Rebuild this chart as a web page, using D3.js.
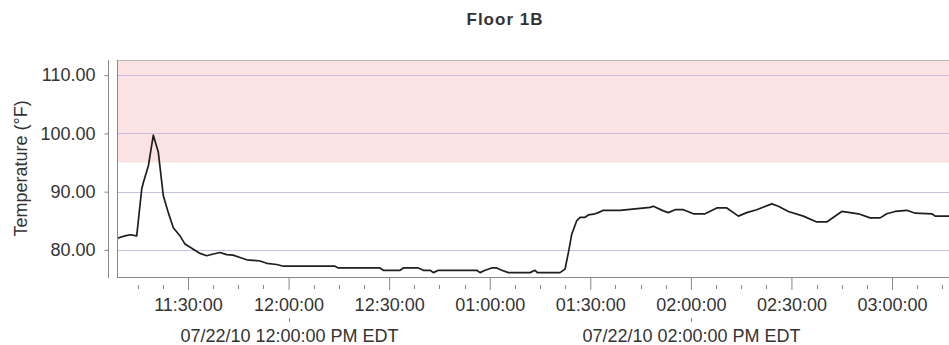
<!DOCTYPE html>
<html><head><meta charset="utf-8">
<script src="https://cdn.jsdelivr.net/npm/d3@7"></script>
<style>body{margin:0;background:#fff}svg{display:block}text{font-family:"Liberation Sans",Arial,sans-serif}</style>
</head><body><svg id="c" width="949" height="345"></svg>
<script>
const title = "Floor 1B";
const yLabel = "Temperature (°F)";
const dateStr = "2010-07-22";
const times = ["11:08:55","11:11:12","11:12:42","11:14:42","11:16:12","11:16:42","11:18:12","11:19:39","11:21:08","11:22:38","11:24:07","11:25:37","11:27:37","11:29:06","11:31:35","11:33:35","11:35:35","11:37:33","11:39:33","11:41:33","11:43:25","11:45:31","11:47:31","11:51:29","11:53:29","11:56:28","11:58:26","12:13:51","12:14:50","12:27:17","12:28:16","12:33:15","12:34:14","12:38:42","12:40:12","12:42:12","12:43:11","12:44:41","12:56:08","12:57:07","12:58:36","13:00:36","13:02:06","13:03:35","13:05:33","13:12:02","13:13:31","13:14:13","13:20:58","13:22:28","13:23:27","13:24:28","13:25:57","13:26:57","13:28:26","13:29:25","13:31:25","13:32:24","13:33:54","13:38:53","13:47:50","13:48:49","13:51:48","13:53:17","13:55:17","13:57:46","14:00:45","14:04:14","14:07:44","14:10:43","14:14:11","14:16:40","14:19:39","14:24:08","14:26:06","14:29:05","14:33:34","14:37:33","14:40:32","14:45:01","14:47:30","14:50:00","14:53:28","14:56:27","14:58:27","15:00:56","15:04:25","15:06:54","15:11:53","15:12:53","15:17:00"];
const temps = [82.0,82.4,82.6,82.4,90.5,91.6,94.5,99.7,96.8,89.3,86.4,83.8,82.4,81.0,80.1,79.4,79.0,79.3,79.55,79.2,79.1,78.7,78.3,78.1,77.7,77.5,77.2,77.2,76.9,76.9,76.5,76.5,76.9,76.9,76.5,76.5,76.1,76.5,76.5,76.1,76.5,76.9,76.9,76.5,76.1,76.1,76.5,76.1,76.1,76.7,79.5,82.7,85.0,85.6,85.6,86.0,86.2,86.4,86.8,86.8,87.3,87.5,86.7,86.4,86.9,86.9,86.2,86.2,87.2,87.2,85.8,86.4,86.9,87.9,87.5,86.6,85.8,84.8,84.8,86.6,86.4,86.2,85.5,85.5,86.2,86.6,86.8,86.3,86.2,85.8,85.8];
const yTicks = [80, 90, 100, 110];
const yDomain = [75.35, 112.6];
const alarmBand = [95, 112.6];
const xDomain = ["11:08:49", "15:17:00"];
const dateLabelTimes = ["12:00:00", "14:00:00"];

const parse = t => new Date(dateStr + "T" + t);
const data = times.map((t, i) => ({t: parse(t), v: temps[i]}));
const FONT = '"Liberation Sans",Arial,sans-serif';

const svg = d3.select("#c");
const L = 117, R = 949, T = 60, B = 277;
const x = d3.scaleTime().domain(xDomain.map(parse)).range([L, R]);
const y = d3.scaleLinear().domain(yDomain).range([B, T]);

// alarm band
svg.append("rect").attr("x", L).attr("width", R - L)
  .attr("y", y(alarmBand[1])).attr("height", y(alarmBand[0]) - y(alarmBand[1]))
  .attr("fill", "#fbe3e3");

// gridlines
svg.append("g").selectAll("line").data(yTicks).join("line")
  .attr("x1", L).attr("x2", R).attr("y1", d => Math.round(y(d)) + 0.5).attr("y2", d => Math.round(y(d)) + 0.5)
  .attr("stroke", "#c6bde8").attr("stroke-width", 1.2);

// line
svg.append("path").datum(data)
  .attr("d", d3.line().x(d => x(d.t)).y(d => y(d.v)))
  .attr("fill", "none").attr("stroke", "#1e1e1e").attr("stroke-width", 1.7).attr("stroke-linejoin", "round");

// frame
svg.append("line").attr("x1", L).attr("x2", R).attr("y1", T + 0.5).attr("y2", T + 0.5).attr("stroke", "#b8b8b8");
svg.append("line").attr("x1", L + 0.5).attr("x2", L + 0.5).attr("y1", T).attr("y2", B).attr("stroke", "#888");
svg.append("line").attr("x1", L).attr("x2", R).attr("y1", B + 0.5).attr("y2", B + 0.5).attr("stroke", "#888");

// y axis (offset)
const yAxis = d3.axisLeft(y).tickValues(yTicks).tickFormat(d3.format(".2f")).tickSize(4).tickPadding(9);
const gy = svg.append("g").attr("transform", "translate(108.5,0)").call(yAxis);
gy.select(".domain").attr("d", `M0,${T}V${B+1}`).attr("stroke", "#888");
gy.selectAll(".tick line").attr("stroke", "#888");
gy.selectAll(".tick text").attr("fill", "#333").style("font-size", "18px").style("font-family", FONT);

// x axis major ticks
const majors = x.ticks(d3.timeMinute.every(30));
const gx = svg.append("g").attr("transform", `translate(0,${B})`)
  .call(d3.axisBottom(x).tickValues(majors).tickFormat(d3.timeFormat("%I:%M:%S")).tickSize(13).tickPadding(8));
gx.select(".domain").remove();
gx.selectAll(".tick line").attr("stroke", "#888");
gx.selectAll(".tick text").attr("fill", "#333").style("font-size", "18px").style("font-family", FONT);

// minor ticks every 7.5 min
const step = 7.5 * 60000;
const base = majors[0].getTime();
const d0 = x.domain()[0].getTime(), d1 = x.domain()[1].getTime();
const minors = d3.range(Math.ceil((d0 - base) / step), Math.floor((d1 - base) / step) + 1)
  .map(k => new Date(base + k * step)).filter(d => (d.getTime() - base) % (4 * step) !== 0);
svg.append("g").selectAll("line").data(minors).join("line")
  .attr("x1", d => Math.round(x(d)) + 0.5).attr("x2", d => Math.round(x(d)) + 0.5)
  .attr("y1", B + 8).attr("y2", B + 12).attr("stroke", "#888");

// date labels
const dl = svg.append("g").selectAll("g").data(dateLabelTimes.map(parse)).join("g")
  .attr("transform", d => `translate(${Math.round(x(d)) + 0.5},0)`);
dl.append("line").attr("y1", 318).attr("y2", 322).attr("stroke", "#888");
dl.append("text").attr("y", 342).attr("text-anchor", "middle").attr("fill", "#333").style("font-size", "18px")
  .text(d => d3.timeFormat("%m/%d/%y %I:%M:%S %p")(d) + " EDT");

// title
svg.append("text").attr("x", 505).attr("y", 25).attr("text-anchor", "middle").attr("fill", "#333")
  .style("font-size", "17px").style("font-weight", "bold").style("letter-spacing", "1px").text(title);

// y label
svg.append("text").attr("transform", `translate(27,${(T + B) / 2}) rotate(-90)`).attr("text-anchor", "middle")
  .attr("fill", "#333").style("font-size", "18px").text(yLabel);
</script></body></html>
